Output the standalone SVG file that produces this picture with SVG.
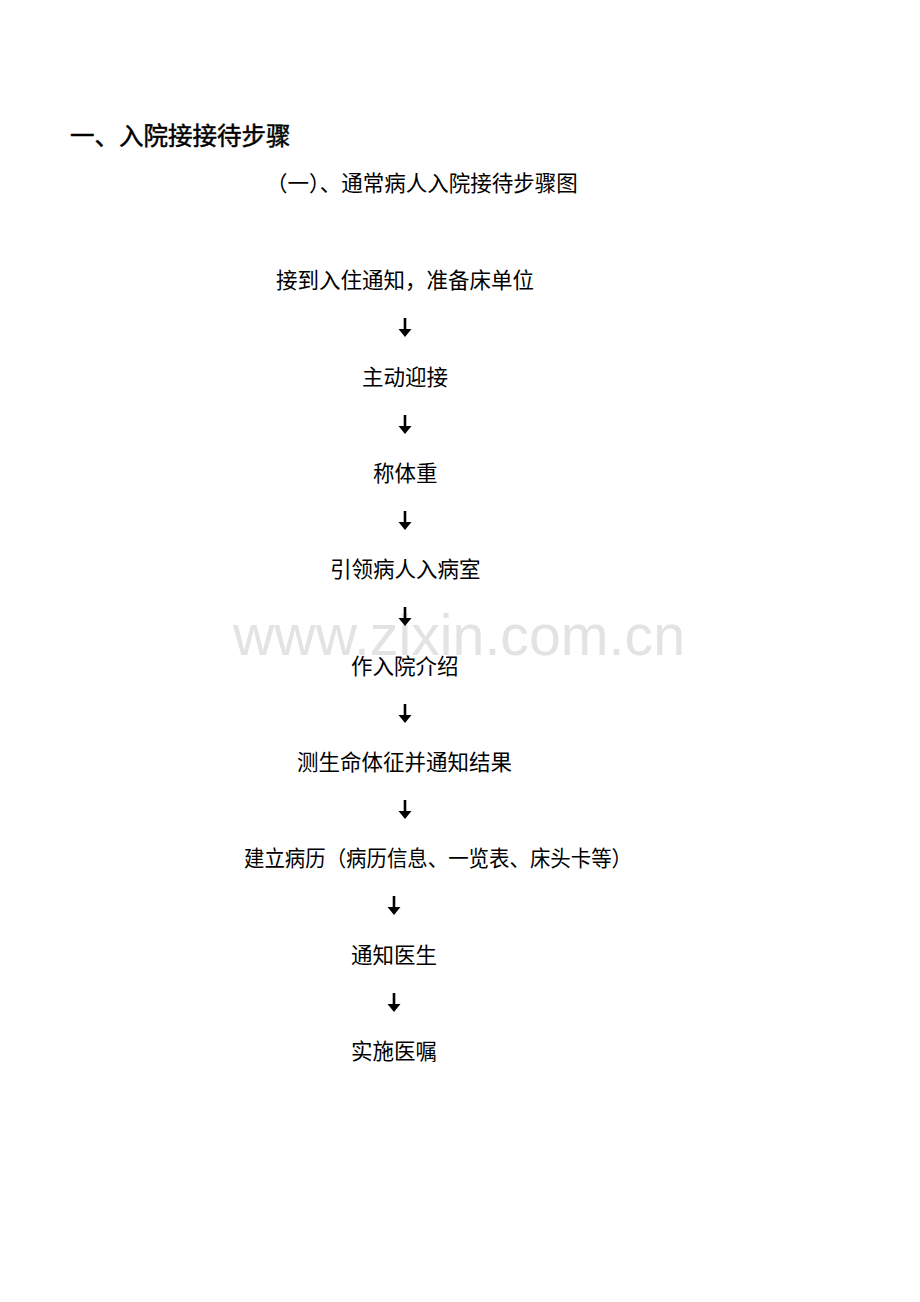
<svg xmlns="http://www.w3.org/2000/svg" width="920" height="1302" viewBox="0 0 920 1302">
<style>
.t{font-family:"Noto Sans CJK SC","Liberation Sans",sans-serif;font-size:21.5px;fill:#000}
.h{font-family:"Noto Sans CJK SC","Liberation Sans",sans-serif;font-size:24.5px;fill:#000;stroke:#000;stroke-width:0.5}
.wm{font-family:"Liberation Sans",Arial,sans-serif;font-size:57px;fill:#e3e3e3}
.ar line{stroke:#000;stroke-width:2.6}
.ar polygon{fill:#000}
</style>
<rect width="920" height="1302" fill="#fff"/>
<text class="wm" x="233" y="655" textLength="452" lengthAdjust="spacingAndGlyphs">www.zixin.com.cn</text>
<g id="title"><text class="h" x="70" y="145">一、入院接接待步骤</text></g>
<g id="subtitle"><text class="t" x="266" y="191">（一）、通常病人入院接待步骤图</text></g>
<g id="n1"><text class="t" x="276" y="288">接到入住通知，准备床单位</text></g>
<g id="n2"><text class="t" x="362" y="385">主动迎接</text></g>
<g id="n3"><text class="t" x="373" y="481">称体重</text></g>
<g id="n4"><text class="t" x="330" y="577">引领病人入病室</text></g>
<g id="n5"><text class="t" x="351" y="674">作入院介绍</text></g>
<g id="n6"><text class="t" x="297" y="770">测生命体征并通知结果</text></g>
<g id="n7"><text class="t" x="244" y="866" textLength="388" lengthAdjust="spacingAndGlyphs">建立病历（病历信息、一览表、床头卡等）</text></g>
<g id="n8"><text class="t" x="351" y="963">通知医生</text></g>
<g id="n9"><text class="t" x="351" y="1059">实施医嘱</text></g>
<g id="connectors" class="ar">
<line x1="405" y1="318" x2="405" y2="331"/><polygon points="398.5,329 411.5,329 405,337"/>
<line x1="405" y1="415" x2="405" y2="428"/><polygon points="398.5,426 411.5,426 405,434"/>
<line x1="405" y1="511" x2="405" y2="524"/><polygon points="398.5,522 411.5,522 405,530"/>
<line x1="405" y1="607" x2="405" y2="620"/><polygon points="398.5,618 411.5,618 405,626"/>
<line x1="405" y1="704" x2="405" y2="717"/><polygon points="398.5,715 411.5,715 405,723"/>
<line x1="405" y1="800" x2="405" y2="813"/><polygon points="398.5,811 411.5,811 405,819"/>
<line x1="394" y1="896" x2="394" y2="909"/><polygon points="387.5,907 400.5,907 394,915"/>
<line x1="394" y1="993" x2="394" y2="1006"/><polygon points="387.5,1004 400.5,1004 394,1012"/>
</g>
</svg>
